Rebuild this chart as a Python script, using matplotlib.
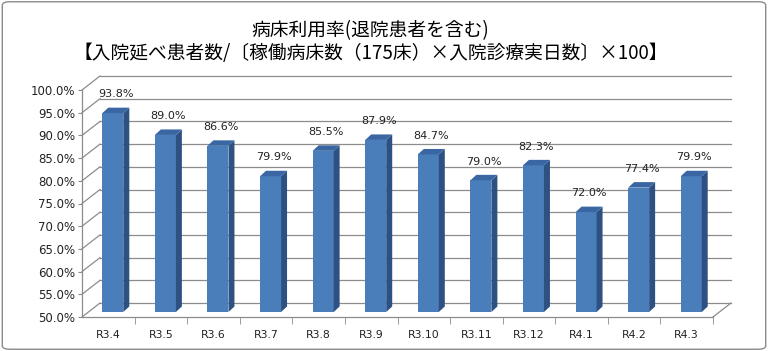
import matplotlib.pyplot as plt
from matplotlib.patches import Polygon, FancyBboxPatch
from matplotlib.ticker import FuncFormatter

# data
months = ['R3.4', 'R3.5', 'R3.6', 'R3.7', 'R3.8', 'R3.9',
          'R3.10', 'R3.11', 'R3.12', 'R4.1', 'R4.2', 'R4.3']
rates = [93.8, 89.0, 86.6, 79.9, 85.5, 87.9, 84.7, 79.0, 82.3, 72.0, 77.4, 79.9]
title_1 = '病床利用率(退院患者を含む)'
title_2 = '【入院延べ患者数/〔稼働病床数（175床）×入院診療実日数〕×100】'

plt.rcParams['font.family'] = ['DejaVu Sans']
cjk = ['Noto Sans CJK JP', 'DejaVu Sans']

W, H = 768, 351
fig = plt.figure(figsize=(W / 100, H / 100), dpi=100)

# outer border like an Excel chart area
fig.patches.append(FancyBboxPatch((0.003, 0.005), 0.994, 0.99, boxstyle='round,pad=0,rounding_size=0.01',
                                  transform=fig.transFigure, fill=False, ec='#8a8a8a', lw=1.0))

left, right, bottom, top = 82, 713, 317, 90
ax = fig.add_axes([left / W, 1 - bottom / H, (right - left) / W, (bottom - top) / H])
n = len(months)
ymin, ymax = 50, 100
ax.set_xlim(-0.5, n - 0.5)
ax.set_ylim(ymin, ymax)

# pixel -> data conversions for the fake 3D depth
px_x = n / (right - left)
px_y = (ymax - ymin) / (bottom - top)
dx, dy = 18 * px_x, 14 * px_y

grid_c = '#8c8c8c'
yt = list(range(50, 101, 5))
x0, x1 = -0.5, n - 0.5
for y in yt:
    ax.plot([x0 + dx, x1 + dx], [y + dy, y + dy], color=grid_c, lw=0.9, zorder=1, clip_on=False)
    ax.plot([x0, x0 + dx], [y, y + dy], color=grid_c, lw=0.9, zorder=1, clip_on=False)
# floor right edge
ax.plot([x1, x1 + dx], [ymin, ymin + dy], color=grid_c, lw=0.9, zorder=1, clip_on=False)

# bars: front face via ax.bar, side and top faces as polygons
bw = 21 * px_x
off_x, off_y = 4.5 * px_x, 5 * px_y
sdx, sdy = 6 * px_x, 5.5 * px_y
xs = [i + off_x for i in range(n)]
heights = [v - ymin for v in rates]
ax.bar(xs, heights, bottom=ymin + off_y, width=bw, color='#4a7ebb', zorder=3, clip_on=False)
for xc, v in zip(xs, rates):
    xr = xc + bw / 2
    xl = xc - bw / 2
    yb = ymin + off_y
    yt_ = v + off_y
    ax.add_patch(Polygon([(xr, yb), (xr, yt_), (xr + sdx, yt_ + sdy), (xr + sdx, yb + sdy)],
                         closed=True, fc='#2e5183', ec='none', zorder=3, clip_on=False))
    ax.add_patch(Polygon([(xl, yt_), (xr, yt_), (xr + sdx, yt_ + sdy), (xl + sdx, yt_ + sdy)],
                         closed=True, fc='#3a67a3', ec='none', zorder=3, clip_on=False))
    ax.annotate(f'{v:.1f}%', (xc + sdx / 2, yt_ + sdy), xytext=(0, 6), textcoords='offset points',
                ha='center', va='bottom', fontsize=8, color='#222222', zorder=4, annotation_clip=False)

# axes styling
for s in ['top', 'right']:
    ax.spines[s].set_visible(False)
for s in ['left', 'bottom']:
    ax.spines[s].set_color(grid_c)
    ax.spines[s].set_linewidth(0.9)
ax.set_yticks(yt)
ax.yaxis.set_major_formatter(FuncFormatter(lambda v, p: f'{v:.1f}%'))
ax.tick_params(axis='y', length=3, color=grid_c, labelsize=8.5, pad=2, labelcolor='#222222')
ax.set_xticks(range(n))
ax.set_xticklabels(months)
ax.set_xticks([i + 0.5 for i in range(n)], minor=True)
ax.tick_params(axis='x', which='major', length=0, labelsize=7.8, pad=9, labelcolor='#222222')
ax.tick_params(axis='x', which='minor', length=5, color=grid_c)
ax.patch.set_visible(False)

fig.text(370 / W, 1 - 31 / H, title_1, ha='center', va='center', fontsize=13.5, family=cjk)
fig.text(371 / W, 1 - 54 / H, title_2, ha='center', va='center', fontsize=13.5, family=cjk)

fig.savefig('out.png', dpi=100)
